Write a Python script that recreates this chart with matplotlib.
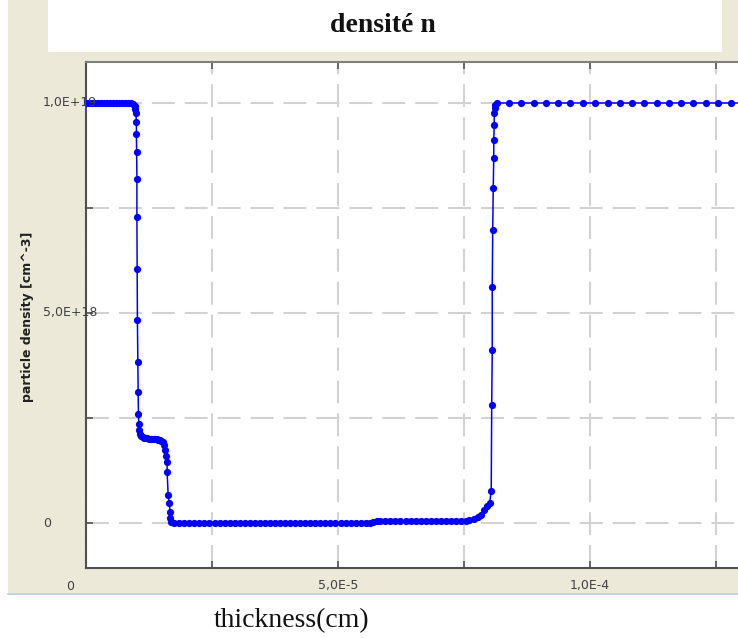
import numpy as np
import matplotlib
matplotlib.use('Agg')
import matplotlib.pyplot as plt
from matplotlib.patches import Rectangle
from matplotlib.lines import Line2D
from matplotlib.transforms import blended_transform_factory

# thickness in units of 1e-6 cm, density in units of 1e18 cm^-3
left_x = [0.0, 0.6, 1.2, 1.8, 2.4, 3.0, 3.6, 4.2, 4.8, 5.4, 6.0, 6.6, 7.2, 7.8, 8.4, 9.0, 9.4, 9.7]
left_n = [10.0, 10.0, 10.0, 10.0, 10.0, 10.0, 10.0, 10.0, 10.0, 10.0, 10.0, 10.0, 10.0, 10.0, 10.0, 10.0, 9.98, 9.94]

drop_x = [9.8, 9.9, 10.0, 10.0, 10.05, 10.1, 10.1, 10.15, 10.2, 10.3, 10.35, 10.4, 10.5, 10.6]
drop_n = [9.85, 9.75, 9.55, 9.27, 8.84, 8.20, 7.29, 6.05, 4.84, 3.83, 3.11, 2.59, 2.35, 2.22]

step_x = [10.8, 11.0, 11.3, 11.6, 11.9, 12.2, 12.5, 12.8, 13.1, 13.4, 13.7, 14.0, 14.3,
          14.6, 14.9, 15.2, 15.5, 15.7, 15.9, 16.1, 16.1, 16.3, 16.5, 16.7, 16.7, 16.9]
step_n = [2.12, 2.07, 2.04, 2.03, 2.02, 2.02, 2.01, 2.01, 2.00, 2.00, 2.00, 1.99, 1.98,
          1.97, 1.95, 1.92, 1.86, 1.74, 1.60, 1.45, 1.21, 0.67, 0.48, 0.26, 0.12, 0.02]

zero_x = [17.5, 18.5, 19.5, 20.5, 21.5, 22.5, 23.5, 24.5, 25.5, 26.5, 27.5, 28.5, 29.5,
          30.5, 31.5, 32.5, 33.5, 34.5, 35.5, 36.5, 37.5, 38.5, 39.5, 40.5, 41.5, 42.5,
          43.5, 44.5, 45.5, 46.5, 47.5, 48.5, 49.5, 50.5, 51.5, 52.5, 53.5, 54.5, 55.5]
zero_n = [0.0, 0.0, 0.0, 0.0, 0.0, 0.0, 0.0, 0.0, 0.0, 0.0, 0.0, 0.0, 0.0,
          0.0, 0.0, 0.0, 0.0, 0.0, 0.0, 0.0, 0.0, 0.0, 0.0, 0.0, 0.0, 0.0,
          0.0, 0.0, 0.0, 0.0, 0.0, 0.0, 0.0, 0.0, 0.0, 0.0, 0.0, 0.0, 0.0]

low_x = [56.3, 57.0, 57.7, 58.4, 59.4, 60.4, 61.4, 62.4, 63.4, 64.4, 65.4, 66.4, 67.4,
         68.4, 69.4, 70.4, 71.4, 72.4, 73.4, 74.4, 75.4]
low_n = [0.01, 0.03, 0.04, 0.05, 0.05, 0.05, 0.05, 0.05, 0.05, 0.05, 0.05, 0.05, 0.05,
         0.05, 0.05, 0.05, 0.05, 0.05, 0.05, 0.05, 0.05]

rise_x = [76.0, 77.0, 77.8, 78.4, 79.0, 79.6, 80.1, 80.4, 80.5, 80.6, 80.6, 80.7, 80.8,
          80.9, 80.9, 81.0, 81.0, 81.1, 81.2, 81.5]
rise_n = [0.06, 0.09, 0.14, 0.20, 0.31, 0.40, 0.48, 0.76, 2.81, 4.12, 5.63, 6.98, 7.97,
          8.68, 9.12, 9.48, 9.75, 9.87, 9.95, 10.0]

right_x = [83.9, 86.4, 88.8, 91.2, 93.7, 96.1, 98.6, 101.0, 103.5, 105.9, 108.3, 110.8,
           113.2, 115.7, 118.1, 120.5, 123.0, 125.4, 127.9, 130.3, 132.7]
right_n = [10.0, 10.0, 10.0, 10.0, 10.0, 10.0, 10.0, 10.0, 10.0, 10.0, 10.0, 10.0,
           10.0, 10.0, 10.0, 10.0, 10.0, 10.0, 10.0, 10.0, 10.0]

x_ticks = [0.0, 2.5e-5, 5e-5, 7.5e-5, 1e-4, 1.25e-4]
x_ticklabels = ['0', '', '5,0E-5', '', '1,0E-4', '']
y_ticks = [0.0, 2.5e18, 5e18, 7.5e18, 1e19]
y_ticklabels = ['0', '', '5,0E+18', '', '1,0E+19']

x = np.concatenate([left_x, drop_x, step_x, zero_x, low_x, rise_x, right_x]) * 1e-6
n = np.concatenate([left_n, drop_n, step_n, zero_n, low_n, rise_n, right_n]) * 1e18

W, H = 738, 638
fig = plt.figure(figsize=(W / 100, H / 100), dpi=100)
fig.patch.set_facecolor('white')

beige = '#ECE9D8'
fig.add_artist(Rectangle((8 / W, (H - 593) / H), 1, 593 / H, transform=fig.transFigure,
                         facecolor=beige, edgecolor='none', zorder=-3))
fig.add_artist(Rectangle((48 / W, (H - 52) / H), (722 - 48) / W, 52 / H, transform=fig.transFigure,
                         facecolor='white', edgecolor='none', zorder=-2))
fig.add_artist(Line2D([8 / W, 1], [(H - 594) / H] * 2, transform=fig.transFigure,
                      color='#b8c8e0', lw=1.2, zorder=-2))

ax = fig.add_axes([86 / W, (H - 568) / H, (760 - 86) / W, (568 - 62) / H])
ax.set_facecolor('white')
ax.set_xlim(0, 1.3373e-4)
ax.set_ylim(-1.0714e18, 10.976e18)

ax.set_xticks(x_ticks)
ax.set_yticks(y_ticks)
ax.tick_params(direction='in', length=5, width=1.2, colors='#555555',
               top=True, right=False, labelbottom=False, labelleft=False)
ax.grid(True, color='#d2d2d2', linestyle=(0, (11, 4.8)), linewidth=1.5)
ax.set_axisbelow(True)
for side in ['left', 'bottom']:
    ax.spines[side].set_color('#505050')
    ax.spines[side].set_linewidth(1.5)
ax.spines['top'].set_color('#808080')
ax.spines['top'].set_linewidth(1.5)
ax.spines['right'].set_visible(False)

ax.plot(x, n, color='#0000ff', lw=1.1, marker='o', markersize=5.2,
        markeredgewidth=0, zorder=3)

# tick labels placed like the original program does
tx = blended_transform_factory(ax.transData, fig.transFigure)
for v, lab in zip(x_ticks, x_ticklabels):
    if not lab:
        continue
    xv = v if v != 0 else -3.2e-6
    ax.text(xv, (H - 586) / H, lab, transform=tx, ha='center', va='center',
            fontsize=9, color='#404040', family='DejaVu Sans', clip_on=False)
ty = blended_transform_factory(fig.transFigure, ax.transData)
for v, lab in zip(y_ticks, y_ticklabels):
    if not lab:
        continue
    ax.text(43 / W, v, lab, transform=ty, ha='left', va='center',
            fontsize=9, color='#404040', family='DejaVu Sans', clip_on=False)

fig.text(28 / W, (H - 317) / H, 'particle density [cm^-3]', rotation=90,
         ha='center', va='center', fontsize=9, fontweight='bold', color='#202020')
fig.text(383 / W, (H - 25) / H, 'densité n', ha='center', va='center',
         fontsize=20, fontweight='bold', family='Liberation Serif', color='#111111')
fig.text(292 / W, (H - 621) / H, 'thickness(cm)', ha='center', va='center',
         fontsize=20, family='Liberation Serif', color='#111111')

fig.savefig('out.png', dpi=100)
